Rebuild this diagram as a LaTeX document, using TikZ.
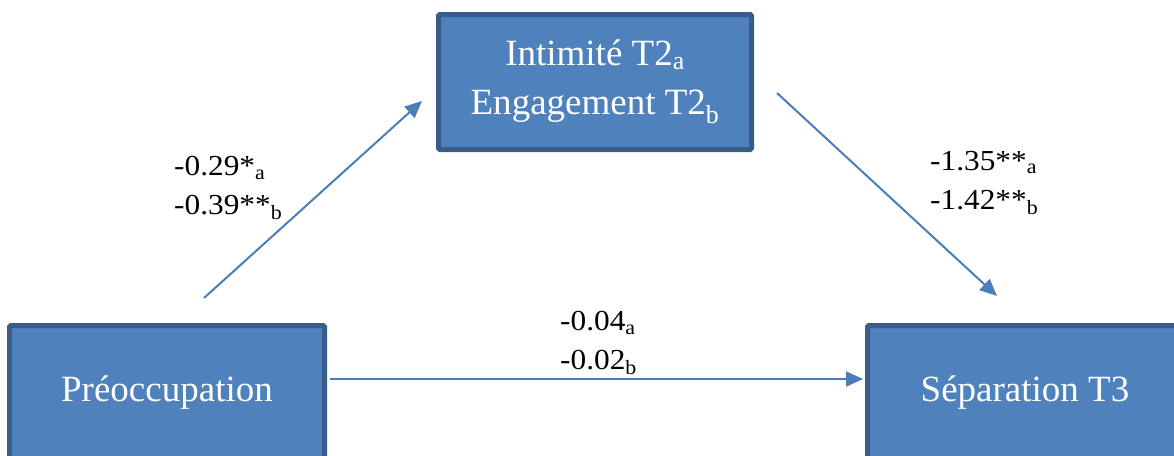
\documentclass[tikz,border=0pt]{standalone}
\usepackage{fontspec}
\setmainfont{Liberation Serif}
\usepackage{xcolor}
\usetikzlibrary{arrows.meta,positioning}
\definecolor{boxfill}{HTML}{4F81BD}
\definecolor{boxline}{HTML}{385D8A}
\definecolor{linkcol}{HTML}{4A7EBB}

\begin{document}
\begin{tikzpicture}[
		x=1pt,y=-1pt,
		box/.style={
		  draw=boxline,
		  fill=boxfill,
		  line width=5pt,
		  rounded corners=1.5pt,
		  text=white,
		  align=center,
		  inner sep=0pt,
		  font=\fontsize{37}{49}\selectfont
		  },
		coef/.style={
		  anchor=west,
		  align=left,
		  inner sep=0pt,
		  font=\fontsize{29}{39}\selectfont\addfontfeature{FakeStretch=1.08}
		  },
		link/.style={
		  draw=linkcol,
		  line width=2pt
		  },
		>={Triangle[length=17pt,width=15pt]}
		]
		\useasboundingbox (0,0) rectangle (1174,455);
		\clip (0,0) rectangle (1174,455);
		% variables
		\node[box, minimum width=313pt, minimum height=135pt] (inter) at (595,82)
		  {\raisebox{-2pt}{\parbox{300pt}{\centering Intimité T2\textsubscript{a}\\Engagement T2\textsubscript{b}}}};
		\node[box, minimum width=315pt, minimum height=135pt] (preoc) at (167,393) {Préoccupation};
		\node[box, minimum width=315pt, minimum height=135pt] (separ) at (1025,393) {Séparation T3};
		% paths
		\draw[link,->] ([shift={(37,-25)}]preoc.north) -- ([shift={(-14,19)}]inter.west);
		\draw[link,->] ([shift={(23,11)}]inter.east) -- ([shift={(-28,-27)}]separ.north);
		\draw[link,->] ([shift={(3,-14)}]preoc.east) -- ([shift={(-2,-14)}]separ.west);
		% coefficients
		\node[coef] (ca) at (174,188) {-0.29*\textsubscript{a}\\-0.39**\textsubscript{b}};
		\node[coef] (cb) at (930,183) {-1.35**\textsubscript{a}\\-1.42**\textsubscript{b}};
		\node[coef] (cc) at (560,343) {-0.04\textsubscript{a}\\-0.02\textsubscript{b}};
	\end{tikzpicture}
\end{document}
